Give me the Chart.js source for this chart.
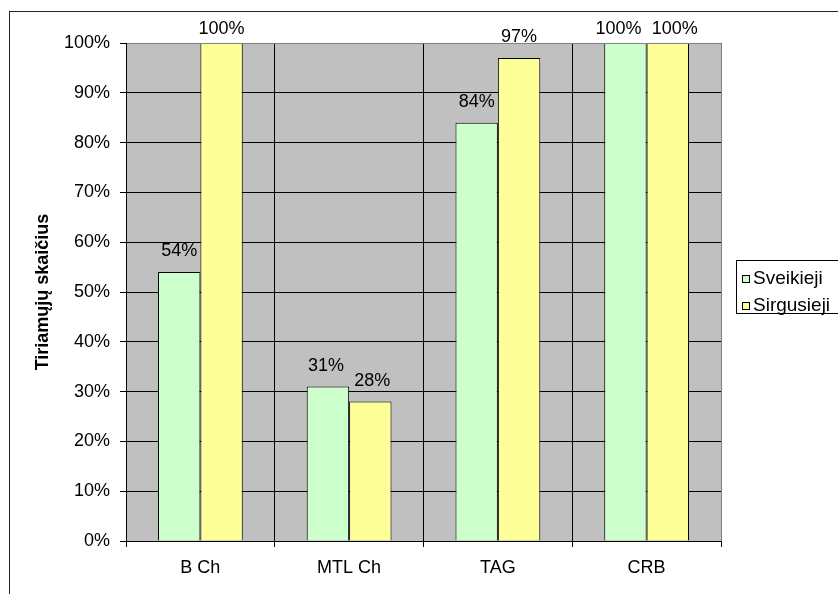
<!DOCTYPE html>
<html>
<head>
<meta charset="utf-8">
<script src="https://cdn.jsdelivr.net/npm/chart.js@4/dist/chart.umd.min.js"></script>
<style>
  html, body { margin: 0; padding: 0; background: #ffffff; }
  #wrap { width: 838px; height: 594px; position: relative; }
</style>
</head>
<body>
<div id="wrap"><canvas id="c" width="838" height="594"></canvas></div>
<script>
const categories = ['B Ch', 'MTL Ch', 'TAG', 'CRB'];
const sveikieji = [54, 31, 84, 100];
const sirgusieji = [100, 28, 97, 100];
const seriesNames = ['Sveikieji', 'Sirgusieji'];
const yTickValues = [0, 10, 20, 30, 40, 50, 60, 70, 80, 90, 100];
const yTitle = 'Tiriamųjų skaičius';

const FONT = 'Arial, "Liberation Sans", sans-serif';
const FS = 18;
const GREEN = '#CCFFCC';
const YELLOW = '#FFFF99';

// Outer frame, grey plot background, value labels and legend box
const backdrop = {
  id: 'backdrop',
  beforeDraw(chart) {
    const ctx = chart.ctx;
    const a = chart.chartArea;
    ctx.save();
    ctx.fillStyle = '#ffffff';
    ctx.fillRect(0, 0, chart.width, chart.height);
    ctx.strokeStyle = '#222222';
    ctx.lineWidth = 1;
    ctx.strokeRect(9.5, 11.5, chart.width + 20, chart.height + 20);
    ctx.fillStyle = '#C0C0C0';
    ctx.fillRect(a.left, a.top, a.right - a.left, a.bottom - a.top);
    ctx.restore();
  },
  afterDatasetsDraw(chart) {
    const ctx = chart.ctx;
    const a = chart.chartArea;
    ctx.save();
    ctx.strokeStyle = '#808080';
    ctx.lineWidth = 1;
    ctx.beginPath();
    ctx.moveTo(a.left, a.top + 0.5);
    ctx.lineTo(a.right + 0.5, a.top + 0.5);
    ctx.lineTo(a.right + 0.5, a.bottom);
    ctx.stroke();
    ctx.strokeStyle = '#000000';
    ctx.beginPath();
    ctx.moveTo(a.left + 0.5, a.top);
    ctx.lineTo(a.left + 0.5, a.bottom + 0.5);
    ctx.lineTo(a.right + 1, a.bottom + 0.5);
    ctx.stroke();

    // value labels above the bars; labels of one category that would touch are pushed apart
    ctx.fillStyle = '#000000';
    ctx.font = FS + 'px ' + FONT;
    ctx.textAlign = 'center';
    ctx.textBaseline = 'middle';
    const m0 = chart.getDatasetMeta(0).data;
    const m1 = chart.getDatasetMeta(1).data;
    const d0 = chart.data.datasets[0].data;
    const d1 = chart.data.datasets[1].data;
    for (let i = 0; i < categories.length; i++) {
      const t0 = d0[i] + '%', t1 = d1[i] + '%';
      let x0 = m0[i].x, x1 = m1[i].x;
      const y0 = Math.max(m0[i].y - 21, 29);
      const y1 = Math.max(m1[i].y - 21, 29);
      const w0 = ctx.measureText(t0).width, w1 = ctx.measureText(t1).width;
      const gap = 10;
      if (Math.abs(y0 - y1) < FS) {
        const need = (w0 + w1) / 2 + gap - (x1 - x0);
        if (need > 0) { x0 -= need / 2; x1 += need / 2; }
      }
      ctx.fillText(t0, x0, y0);
      ctx.fillText(t1, x1, y1);
    }
    ctx.restore();
  },
  afterDraw(chart) {
    const ctx = chart.ctx;
    ctx.save();
    ctx.fillStyle = '#ffffff';
    ctx.fillRect(736, 260, 110, 53);
    ctx.strokeStyle = '#000000';
    ctx.lineWidth = 1;
    ctx.strokeRect(736.5, 260.5, 110, 53);
    ctx.font = '19px ' + FONT;
    ctx.textAlign = 'left';
    ctx.textBaseline = 'middle';
    chart.data.datasets.forEach((ds, i) => {
      const cy = 279 + i * 27;
      ctx.fillStyle = ds.backgroundColor;
      ctx.fillRect(742, cy - 4, 8, 8);
      ctx.strokeStyle = '#000000';
      ctx.strokeRect(742.5, cy - 3.5, 7, 7);
      ctx.fillStyle = '#000000';
      ctx.fillText(ds.label, 753, cy);
    });
    ctx.restore();
  }
};

new Chart(document.getElementById('c'), {
  type: 'bar',
  data: {
    labels: categories,
    datasets: [
      { label: seriesNames[0], data: sveikieji, backgroundColor: GREEN, borderColor: '#000000', borderWidth: 1 },
      { label: seriesNames[1], data: sirgusieji, backgroundColor: YELLOW, borderColor: '#000000', borderWidth: 1 }
    ]
  },
  options: {
    responsive: false,
    animation: false,
    devicePixelRatio: 1,
    layout: { padding: { top: 43, right: 117, bottom: 0, left: 0 } },
    datasets: { bar: { categoryPercentage: 0.57, barPercentage: 1.0 } },
    plugins: { legend: { display: false }, tooltip: { enabled: false } },
    scales: {
      x: {
        offset: true,
        grid: { offset: true, color: '#000000', lineWidth: 1, tickLength: 6, drawTicks: true },
        border: { display: false },
        ticks: { color: '#000000', font: { family: FONT, size: FS }, padding: 10 },
        afterFit(s) { s.height = 53; }
      },
      y: {
        min: 0,
        max: 100,
        afterBuildTicks(s) { s.ticks = yTickValues.map(v => ({ value: v })); },
        grid: { color: '#000000', lineWidth: 1, tickLength: 6 },
        border: { display: false },
        ticks: { color: '#000000', font: { family: FONT, size: FS }, padding: 10, callback: v => v + '%' },
        title: { display: true, text: yTitle, color: '#000000', font: { family: FONT, size: FS, weight: 'bold' }, padding: { top: 32, bottom: 0 } },
        afterFit(s) { s.width = 126; }
      }
    }
  },
  plugins: [backdrop]
});
</script>
</body>
</html>
